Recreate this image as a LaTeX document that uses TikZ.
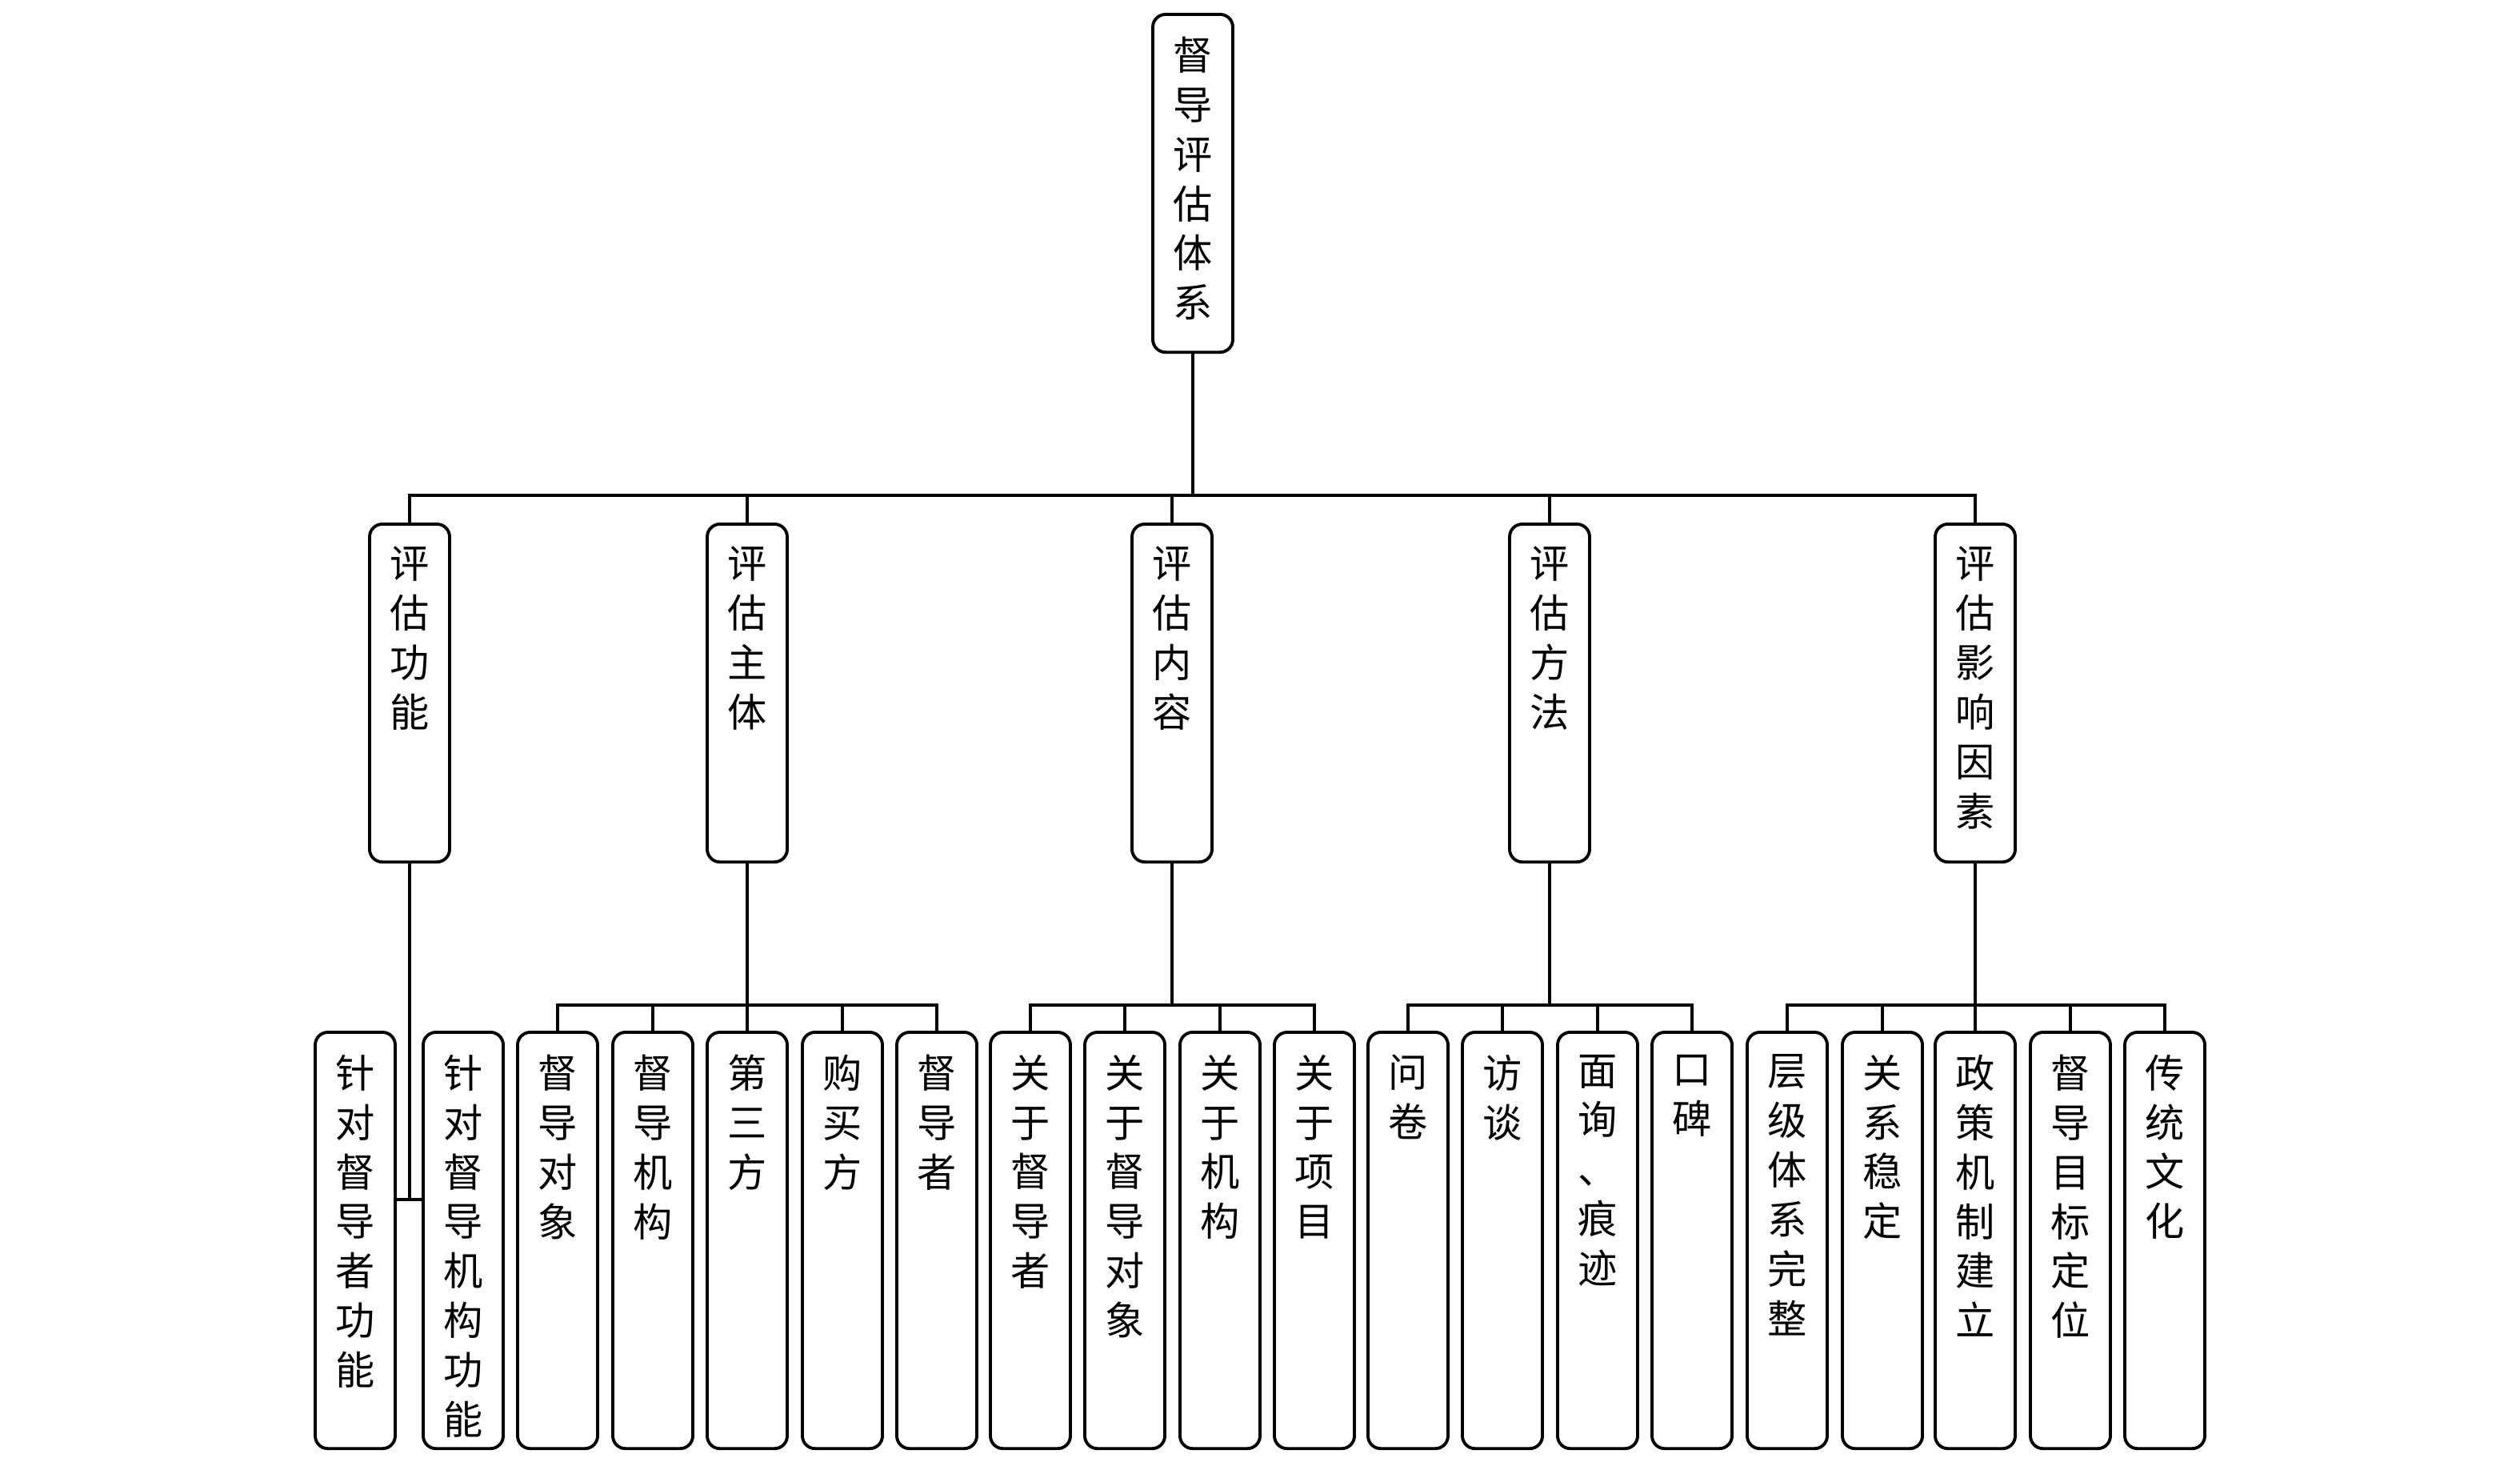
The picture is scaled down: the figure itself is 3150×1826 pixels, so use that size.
\documentclass[tikz,border=0pt]{standalone}
\usepackage{fontspec}
\newfontfamily\cjk{Noto Sans CJK SC}
\newcommand\vt[2]{\parbox[c][#1][t]{1cm}{\centering\vspace*{0.28cm}#2\par}}
\begin{document}
\begin{tikzpicture}[x=0.01cm,y=-0.01cm,
  font=\cjk\fontsize{14pt}{17.6pt}\selectfont,
  box/.style={draw, line width=1.1pt, rounded corners=0.16cm, inner sep=0pt, anchor=north},
  conn/.style={line width=0.9pt}]
\useasboundingbox (0,0) rectangle (3150,1826);
% root
\node[box] (root) at (1491,16) {\vt{4.22cm}{督\\导\\评\\估\\体\\系}};
% level 2
\node[box] (f) at (512,653) {\vt{4.22cm}{评\\估\\功\\能}};
\node[box] (s) at (934,653) {\vt{4.22cm}{评\\估\\主\\体}};
\node[box] (c) at (1465,653) {\vt{4.22cm}{评\\估\\内\\容}};
\node[box] (m) at (1937,653) {\vt{4.22cm}{评\\估\\方\\法}};
\node[box] (i) at (2469,653) {\vt{4.22cm}{评\\估\\影\\响\\因\\素}};
% level 3
\node[box] (fa) at (444,1288) {\vt{5.2cm}{针\\对\\督\\导\\者\\功\\能}};
\node[box] (fb) at (579,1288) {\vt{5.2cm}{针\\对\\督\\导\\机\\构\\功\\能}};
\node[box] (s1) at (697,1288) {\vt{5.2cm}{督\\导\\对\\象}};
\node[box] (s2) at (816,1288) {\vt{5.2cm}{督\\导\\机\\构}};
\node[box] (s3) at (934,1288) {\vt{5.2cm}{第\\三\\方}};
\node[box] (s4) at (1053,1288) {\vt{5.2cm}{购\\买\\方}};
\node[box] (s5) at (1171,1288) {\vt{5.2cm}{督\\导\\者}};
\node[box] (c1) at (1288,1288) {\vt{5.2cm}{关\\于\\督\\导\\者}};
\node[box] (c2) at (1406,1288) {\vt{5.2cm}{关\\于\\督\\导\\对\\象}};
\node[box] (c3) at (1525,1288) {\vt{5.2cm}{关\\于\\机\\构}};
\node[box] (c4) at (1643,1288) {\vt{5.2cm}{关\\于\\项\\目}};
\node[box] (m1) at (1760,1288) {\vt{5.2cm}{问\\卷}};
\node[box] (m2) at (1878,1288) {\vt{5.2cm}{访\\谈}};
\node[box] (m3) at (1997,1288) {\vt{5.2cm}{面\\询\\、\\痕\\迹}};
\node[box] (m4) at (2115,1288) {\vt{5.2cm}{口\\碑}};
\node[box] (i1) at (2234,1288) {\vt{5.2cm}{层\\级\\体\\系\\完\\整}};
\node[box] (i2) at (2353,1288) {\vt{5.2cm}{关\\系\\稳\\定}};
\node[box] (i3) at (2469,1288) {\vt{5.2cm}{政\\策\\机\\制\\建\\立}};
\node[box] (i4) at (2588,1288) {\vt{5.2cm}{督\\导\\目\\标\\定\\位}};
\node[box] (i5) at (2706,1288) {\vt{5.2cm}{传\\统\\文\\化}};
% buses
\coordinate (b2) at (0,619);
\coordinate (b3) at (0,1256);
\coordinate (stub) at (512,1499);
% root to level 2
\draw[conn] (root.south) -- (root.south |- b2);
\draw[conn] (f.north) -- (f.north |- b2) -| (i.north);
\foreach \n in {s,c,m} \draw[conn] (\n.north) -- (\n.north |- b2);
% function
\draw[conn] (f.south) -- (stub);
\draw[conn] (fa.east |- stub) -- (fb.west |- stub);
% subject
\draw[conn] (s.south) -- (s.south |- b3);
\draw[conn] (s1.north) -- (s1.north |- b3) -| (s5.north);
\foreach \n in {s2,s3,s4} \draw[conn] (\n.north) -- (\n.north |- b3);
% content
\draw[conn] (c.south) -- (c.south |- b3);
\draw[conn] (c1.north) -- (c1.north |- b3) -| (c4.north);
\foreach \n in {c2,c3} \draw[conn] (\n.north) -- (\n.north |- b3);
% methods
\draw[conn] (m.south) -- (m.south |- b3);
\draw[conn] (m1.north) -- (m1.north |- b3) -| (m4.north);
\foreach \n in {m2,m3} \draw[conn] (\n.north) -- (\n.north |- b3);
% influence
\draw[conn] (i.south) -- (i.south |- b3);
\draw[conn] (i1.north) -- (i1.north |- b3) -| (i5.north);
\foreach \n in {i2,i3,i4} \draw[conn] (\n.north) -- (\n.north |- b3);
\end{tikzpicture}
\end{document}
